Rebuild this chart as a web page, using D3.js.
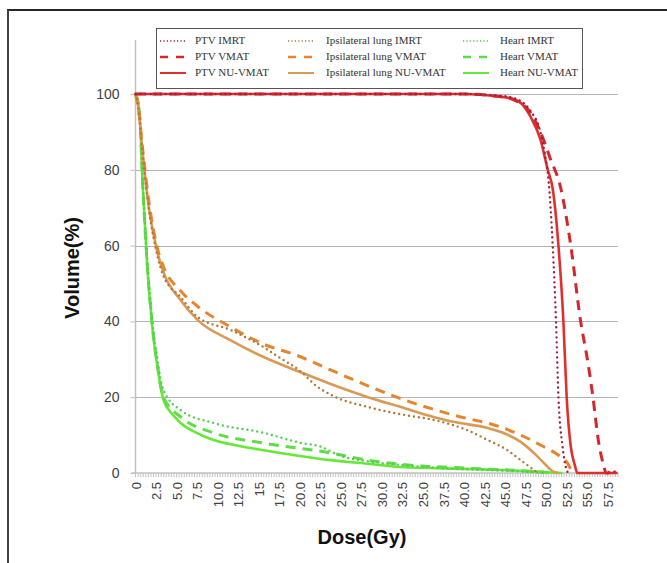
<!DOCTYPE html>
<html>
<head>
<meta charset="utf-8">
<script src="https://cdn.jsdelivr.net/npm/d3@7"></script>
<style>
  body { margin: 0; background: #fff; }
</style>
</head>
<body>
<div id="dvh-vis"></div>
<script>
// dose (Gy) / volume (%) points
var ptv_imrt = [[0,100],[40,100],[44,99.6],[46,99],[48.1,95.5],[49.3,90],[50,82],[50.3,77],[50.8,60],[51.2,40],[51.5,20],[52.0,7],[52.4,1.5],[52.7,0]];
var ptv_vmat = [[0,100],[40,100],[44,99.4],[46,98.5],[48.1,95],[49.3,90],[50.5,83],[51.8,75],[53.0,60],[54.2,40],[55.1,29],[55.7,20],[56.4,8],[57.0,2],[57.3,0],[57.6,0],[57.9,1.2],[58.4,0]];
var ptv_nuvmat = [[0,100],[40,100],[42,99.8],[44,99.4],[46,98.7],[47,97.5],[48.1,94],[49.3,88],[50.2,80],[50.8,75],[51.5,60],[52.1,40],[52.5,20],[53.0,7],[53.5,2],[53.8,0],[58.7,0]];

var lung_imrt = [[0,100],[0.3,97],[0.85,85],[1.6,70],[2.2,62],[2.7,57],[3.4,52],[5.5,46.4],[7.55,41.2],[11.6,37.7],[15.6,33.2],[17.5,30.5],[20,27],[22,23],[24.1,20.3],[28.3,17.4],[32.3,15.5],[36.3,14],[40.4,11.3],[42.9,8.7],[45.3,6],[46.9,3.4],[48.5,0.8],[49,0]];
var lung_vmat = [[0,100],[0.3,97],[0.85,86],[1.6,72],[2.2,64],[2.7,59],[3.4,54.5],[5.5,48],[7.55,44],[11.6,38.5],[15.6,34],[19.7,31],[23.75,27.2],[28.3,23],[33.5,18.7],[38.7,15.3],[44.5,12.1],[46.9,10],[49.3,7.4],[51.8,4.2],[52.6,2.6],[53.2,0]];
var lung_nuvmat = [[0,100],[0.3,97],[0.85,85],[1.6,70.5],[2.2,63],[2.7,58],[3.4,53],[5.5,45.6],[7.55,40.4],[11.6,35],[15.6,30.6],[20.1,26.6],[24.1,23.2],[28.3,20],[32.3,17.4],[36.3,14.8],[38.7,13.5],[42.9,11.9],[44.5,10.8],[46.9,8.2],[48.5,5.3],[50.2,1.6],[50.9,0.3],[51.5,0]];

var heart_imrt = [[0,100],[0.45,96],[0.9,76],[1.4,57],[2.0,41],[2.7,29.5],[3.4,21.9],[5.5,16.6],[9.5,13.2],[15.6,10.6],[20,8],[22.5,7],[25,4.5],[28,3.2],[33,2],[40,1],[46,0.5],[50,0]];
var heart_vmat = [[0,100],[0.45,96],[0.9,75],[1.4,56],[2.0,40],[2.7,28],[3.4,20],[5.5,14.8],[9.5,10.6],[15.6,7.9],[23.75,5.3],[28,3.5],[32.3,2.3],[40,1.3],[47,0.6],[51,0]];
var heart_nuvmat = [[0,100],[0.45,96],[0.9,75],[1.4,55.5],[2.0,39.5],[2.7,27.5],[3.4,19.3],[4.5,15.5],[5.5,13.2],[7.5,10.5],[9.5,8.7],[12.5,7.2],[15.6,6],[20,4.5],[23.75,3.4],[28,2.5],[32.3,1.6],[40,1.1],[44.5,0.8],[48,0.5],[50,0.2],[52,0]];

var x_tick_labels = ["0","2.5","5.0","7.5","10.0","12.5","15","17.5","20.0","22.5","25.0","27.5","30.0","32.5","25.0","37.5","40.0","42.5","45.0","47.5","50.0","52.5","55.0","57.5"];
var y_ticks = [0, 20, 40, 60, 80, 100];

var series = [
    {name: "Heart NU-VMAT", data: heart_nuvmat, color: "#66e838", style: "solid"},
    {name: "Heart VMAT", data: heart_vmat, color: "#5fdc46", style: "dash"},
    {name: "Heart IMRT", data: heart_imrt, color: "#52cc52", style: "dot"},
    {name: "Ipsilateral lung NU-VMAT", data: lung_nuvmat, color: "#d99a55", style: "solid"},
    {name: "Ipsilateral lung VMAT", data: lung_vmat, color: "#e5862f", style: "dash"},
    {name: "Ipsilateral lung IMRT", data: lung_imrt, color: "#ad7838", style: "dot"},
    {name: "PTV NU-VMAT", data: ptv_nuvmat, color: "#e0302e", style: "solid"},
    {name: "PTV VMAT", data: ptv_vmat, color: "#d6262c", style: "dash"},
    {name: "PTV IMRT", data: ptv_imrt, color: "#9e1f3c", style: "dot"}
];

// legend order, column by column
var legend_rows = [
    ["PTV IMRT", "Ipsilateral lung IMRT", "Heart IMRT"],
    ["PTV VMAT", "Ipsilateral lung VMAT", "Heart VMAT"],
    ["PTV NU-VMAT", "Ipsilateral lung NU-VMAT", "Heart NU-VMAT"]
];

var width = 667, height = 563;
var svg = d3.select("#dvh-vis").append("svg")
    .attr("width", width)
    .attr("height", height)
    .style("display", "block");

svg.append("rect").attr("width", width).attr("height", height).attr("fill", "#fff");

// outer frame (top + left only)
svg.append("line").attr("x1", 7).attr("x2", width).attr("y1", 10).attr("y2", 10)
    .attr("stroke", "#262626").attr("stroke-width", 2);
svg.append("line").attr("x1", 8).attr("x2", 8).attr("y1", 10).attr("y2", height)
    .attr("stroke", "#404040").attr("stroke-width", 2);

var x = d3.scaleLinear().domain([0, 58.75]).range([135.5, 618]);
var y = d3.scaleLinear().domain([0, 100]).range([473, 94]);

// grid
svg.append("g").selectAll("line")
    .data(y_ticks.filter(function(d){ return d > 0; }))
    .enter().append("line")
    .attr("x1", x(0)).attr("x2", 618)
    .attr("y1", function(d){ return Math.round(y(d)) + 0.5; })
    .attr("y2", function(d){ return Math.round(y(d)) + 0.5; })
    .attr("stroke", "#b4b4b4").attr("stroke-width", 1.2);

// y axis
var yAxis = d3.axisLeft(y).tickValues(y_ticks).tickSize(5).tickPadding(11).tickFormat(d3.format("d"));
var gy = svg.append("g").attr("transform", "translate(" + x(0) + ",0)").call(yAxis);
gy.select(".domain").remove();
gy.append("line").attr("x1", 0).attr("x2", 0).attr("y1", 40).attr("y2", y(0))
    .attr("stroke", "#c0c0c0").attr("stroke-width", 1.5);
gy.selectAll(".tick line").attr("stroke", "#c0c0c0");
gy.selectAll(".tick text")
    .attr("font-family", "Arial, 'Liberation Sans', sans-serif")
    .attr("font-size", 14)
    .attr("fill", "#404040");

// x axis: minor ticks + labels every 2.5
var minor = d3.range(0, 58.76, 2.5 / 8);
var gx = svg.append("g").attr("transform", "translate(0," + y(0) + ")");
gx.append("line").attr("x1", x(0) - 4).attr("x2", 618).attr("y1", 0).attr("y2", 0)
    .attr("stroke", "#c0c0c0").attr("stroke-width", 1.5);
gx.selectAll(".minor").data(minor).enter().append("line")
    .attr("class", "minor")
    .attr("x1", function(d){ return x(d); }).attr("x2", function(d){ return x(d); })
    .attr("y1", 0).attr("y2", 4)
    .attr("stroke", "#c0c0c0").attr("stroke-width", 1);

var xAxis = d3.axisBottom(x)
    .tickValues(d3.range(0, x_tick_labels.length).map(function(i){ return i * 2.5; }))
    .tickFormat(function(d, i){ return x_tick_labels[i]; })
    .tickSize(0);
var gxl = svg.append("g").attr("transform", "translate(0," + y(0) + ")").call(xAxis);
gxl.select(".domain").remove();
gxl.selectAll(".tick text")
    .attr("font-family", "Arial, 'Liberation Sans', sans-serif")
    .attr("font-size", 13)
    .attr("fill", "#404040")
    .attr("text-anchor", "end")
    .attr("dy", "0.35em")
    .attr("transform", "translate(0,9) rotate(-90)")
    .attr("x", 0).attr("y", 0);

// axis titles
svg.append("text")
    .attr("transform", "translate(79,268) rotate(-90)")
    .attr("text-anchor", "middle")
    .attr("font-family", "Arial, 'Liberation Sans', sans-serif")
    .attr("font-weight", "bold")
    .attr("font-size", 20)
    .attr("fill", "#111")
    .text("Volume(%)");
svg.append("text")
    .attr("x", 362).attr("y", 544)
    .attr("text-anchor", "middle")
    .attr("font-family", "Arial, 'Liberation Sans', sans-serif")
    .attr("font-weight", "bold")
    .attr("font-size", 20)
    .attr("fill", "#111")
    .text("Dose(Gy)");

var dash_style = {
    solid: {width: 2.6, dash: null, cap: "butt"},
    dash: {width: 3, dash: "10,7", cap: "butt"},
    dot: {width: 2.4, dash: "0,5", cap: "round"}
};

var line = d3.line()
    .x(function(d){ return x(d[0]); })
    .y(function(d){ return y(d[1]); })
    .curve(d3.curveMonotoneX);

var curves = svg.append("g");
series.forEach(function(s){
    var st = dash_style[s.style];
    curves.append("path")
        .datum(s.data)
        .attr("d", line)
        .attr("fill", "none")
        .attr("stroke", s.color)
        .attr("stroke-width", st.width)
        .attr("stroke-dasharray", st.dash)
        .attr("stroke-linecap", st.cap)
        .attr("stroke-linejoin", "round");
});

// Legend
var legend = svg.append("g");
legend.append("rect")
    .attr("x", 156.5).attr("y", 28.5).attr("width", 426).attr("height", 60)
    .attr("fill", "#fff").attr("stroke", "#555").attr("stroke-width", 1);

var col_x = [160, 288, 463];
var col_text_x = [195, 326, 500];
var row_y = [41, 57, 73];
var legend_style = {
    solid: {width: 2, dash: null, cap: "butt"},
    dash: {width: 2.5, dash: "8,8", cap: "butt"},
    dot: {width: 1.4, dash: "1.2,2.2", cap: "butt"}
};

legend_rows.forEach(function(row, r){
    row.forEach(function(name, c){
        var s = series.filter(function(d){ return d.name == name; })[0];
        var st = legend_style[s.style];
        legend.append("line")
            .attr("x1", col_x[c]).attr("x2", col_x[c] + 26)
            .attr("y1", row_y[r]).attr("y2", row_y[r])
            .attr("stroke", s.color)
            .attr("stroke-width", st.width)
            .attr("stroke-dasharray", st.dash)
            .attr("stroke-linecap", st.cap);
        legend.append("text")
            .attr("x", col_text_x[c]).attr("y", row_y[r])
            .attr("dominant-baseline", "middle")
            .attr("font-family", "'Liberation Serif', 'Times New Roman', serif")
            .attr("font-size", 11)
            .attr("fill", "#333")
            .text(name);
    });
});
</script>
</body>
</html>
